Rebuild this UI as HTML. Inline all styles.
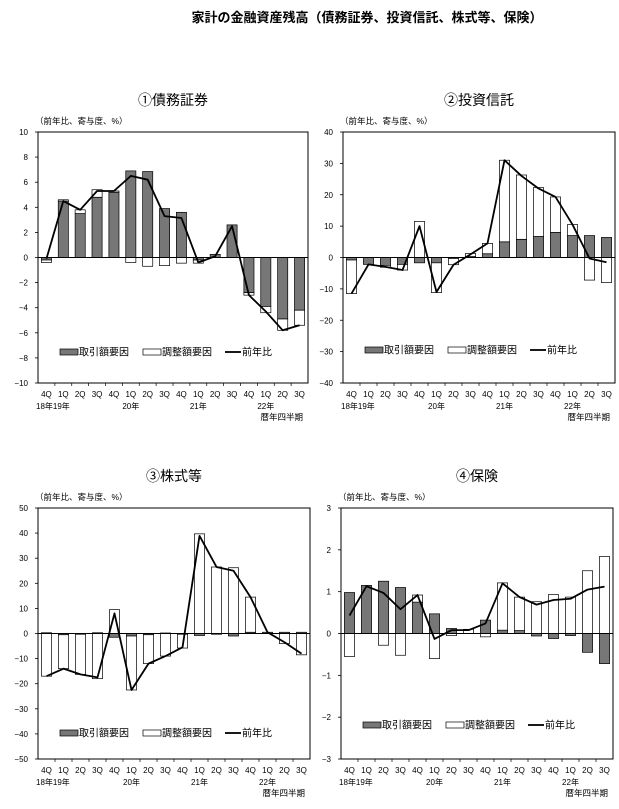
<!DOCTYPE html>
<html><head><meta charset="utf-8">
<style>
body{margin:0;background:#fff;width:619px;height:809px;overflow:hidden}
svg{display:block}
text{font-family:"Liberation Sans","Noto Sans CJK JP",sans-serif;fill:#000}
</style></head>
<body>
<svg id="s" width="619" height="809" xmlns="http://www.w3.org/2000/svg">
<text x="367" y="22" font-size="13" font-weight="bold" text-anchor="middle">家計の金融資産残高（債務証券、投資信託、株式等、保険）</text>
</svg>
<script>
const NS="http://www.w3.org/2000/svg",S=document.getElementById('s');
function el(t,a,txt){const e=document.createElementNS(NS,t);for(const k in a)e.setAttribute(k,a[k]);if(txt!=null)e.textContent=txt;S.appendChild(e);return e;}
const Q=["4Q","1Q","2Q","3Q","4Q","1Q","2Q","3Q","4Q","1Q","2Q","3Q","4Q","1Q","2Q","3Q"];
function chart(c){
 const {x0,x1,y0,y1,max,min,step,g,w,l,title,ty}=c;
 const sy=v=>y0+(max-v)/(max-min)*(y1-y0);
 el('text',{x:(x0+x1)/2,y:ty,'font-size':14,'text-anchor':'middle'},title);
 el('text',{x:x0-3,y:y0-8,'font-size':8.5},'（前年比、寄与度、%）');
 for(let v=min;v<=max+1e-9;v+=step){el('text',{x:x0-10,y:sy(v)+3,'font-size':8,'text-anchor':'end'},String(Math.round(v*10)/10).replace('-','−'));
  el('line',{x1:x0-3,x2:x0,y1:sy(v),y2:sy(v),stroke:'#000','stroke-width':0.8});}
 const n=16,sl=(x1-x0)/n,bw=sl*0.6;
 for(let i=0;i<n;i++){const cx=x0+sl*(i+0.5),bx=cx-bw/2;
  let pos=0,neg=0;
  [[g[i],'#777'],[w[i],'#fff']].forEach(([v,f])=>{let a,b;
   if(v>=0){a=pos;b=pos+v;pos=b}else{a=neg;b=neg+v;neg=b}
   const t=sy(Math.max(a,b)),h=Math.abs(sy(a)-sy(b));
   if(h>0)el('rect',{x:bx,y:t,width:bw,height:h,fill:f,stroke:'#000','stroke-width':0.7});});
  el('text',{x:cx,y:y1+14,'font-size':8,'text-anchor':'middle'},Q[i]);
  if(i>0)el('line',{x1:x0+sl*i,x2:x0+sl*i,y1:y1,y2:y1+3,stroke:'#000','stroke-width':0.7});
 }
 el('line',{x1:x0,x2:x1,y1:sy(0),y2:sy(0),stroke:'#000','stroke-width':1});
 el('polyline',{points:l.map((v,i)=>(x0+sl*(i+0.5))+','+sy(v)).join(' '),fill:'none',stroke:'#000','stroke-width':1.8,'stroke-linejoin':'round'});
 el('rect',{x:x0,y:y0,width:x1-x0,height:y1-y0,fill:'none',stroke:'#000','stroke-width':1});
 const yl=y1+26;
 el('text',{x:x0-2,y:yl,'font-size':8},'18年19年');
 el('text',{x:x0+sl*5.5,y:yl,'font-size':8,'text-anchor':'middle'},'20年');
 el('text',{x:x0+sl*9.5,y:yl,'font-size':8,'text-anchor':'middle'},'21年');
 el('text',{x:x0+sl*13.5,y:yl,'font-size':8,'text-anchor':'middle'},'22年');
 el('text',{x:x1-5,y:y1+37,'font-size':8.5,'text-anchor':'end'},'暦年四半期');
 const ly=c.ly;
 el('rect',{x:x0+22,y:ly-3,width:18,height:6,fill:'#777',stroke:'#000','stroke-width':0.7});
 el('text',{x:x0+41,y:ly+3.5,'font-size':10},'取引額要因');
 el('rect',{x:x0+105,y:ly-3,width:18,height:6,fill:'#fff',stroke:'#000','stroke-width':0.7});
 el('text',{x:x0+124,y:ly+3.5,'font-size':10},'調整額要因');
 el('line',{x1:x0+187,x2:x0+203,y1:ly,y2:ly,stroke:'#000','stroke-width':1.8});
 el('text',{x:x0+204,y:ly+3.5,'font-size':10},'前年比');
}
chart({x0:38,x1:308,y0:132,y1:383,max:10,min:-10,step:2,ty:105,ly:352,title:'①債務証券',
 g:[-0.2,4.5,3.5,4.8,5.2,6.9,6.85,3.9,3.6,-0.2,0.25,2.6,-2.8,-3.9,-4.9,-4.2],
 w:[-0.2,0.1,0.3,0.6,0.1,-0.4,-0.7,-0.65,-0.45,-0.25,0,0,-0.2,-0.5,-0.9,-1.2],
 l:[-0.1,4.5,3.8,5.3,5.3,6.5,6.2,3.3,3.15,-0.4,0.1,2.5,-3.0,-4.3,-5.8,-5.4]});
chart({x0:343,x1:615,y0:132,y1:383,max:40,min:-40,step:10,ty:105,ly:350,title:'②投資信託',
 g:[-0.8,-2.2,-2.5,-2.2,-1.7,-1.7,-0.3,0.3,1.2,5,5.8,6.7,8,7,7,6.4],
 w:[-10.7,0,-0.6,-1.8,11.5,-9.5,-2.0,1.0,3.3,26,20.5,15.6,11.3,3.5,-7.2,-8],
 l:[-11.5,-2.2,-3,-4,10,-11,-2.3,1,4.5,31,26,22,19.3,10.5,-0.3,-1.5]});
chart({x0:38,x1:310,y0:508,y1:759,max:50,min:-50,step:10,ty:481,ly:733,title:'③株式等',
 g:[0.3,-0.5,-0.3,0.3,-1.5,-1,-0.5,0.2,-0.3,-0.8,-0.3,-1,0.5,0.5,0.5,0.5],
 w:[-17,-13.5,-16,-18,9.5,-21.5,-11.5,-9,-5.5,39.7,26.5,26.2,14,0,-4,-8.5],
 l:[-17,-14,-16.3,-17.5,8,-22.5,-12,-9,-5.5,38.9,26.5,25,14.5,0.5,-3.5,-8]});
chart({x0:341,x1:613,y0:508,y1:759,max:3,min:-3,step:1,ty:481,ly:725,title:'④保険',
 g:[0.98,1.15,1.25,1.1,0.75,0.47,0.12,0,0.32,0.08,0.07,-0.06,-0.12,-0.05,-0.45,-0.72],
 w:[-0.55,0,-0.28,-0.52,0.17,-0.6,-0.05,0.1,-0.08,1.13,0.8,0.76,0.93,0.87,1.5,1.84],
 l:[0.43,1.13,0.97,0.58,0.92,-0.13,0.08,0.08,0.24,1.2,0.87,0.69,0.8,0.83,1.05,1.12]});
</script>
</body></html>
